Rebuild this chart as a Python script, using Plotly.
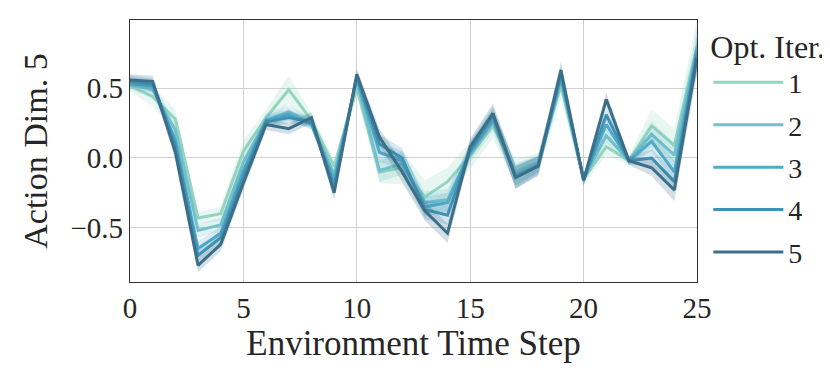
import plotly.graph_objects as go

# environment time steps
steps = list(range(26))

iter_names = ["1", "2", "3", "4", "5"]
iter_colors = ["#95d5c0", "#72c0c9", "#52aac9", "#3f92b5", "#3b6f89"]

# mean action (dim 5) per optimisation iteration
mean_1 = [0.52, 0.44, 0.28, -0.43, -0.40, 0.05, 0.29, 0.49, 0.27, -0.06, 0.50, -0.10, -0.07,
          -0.28, -0.17, 0.02, 0.23, -0.10, -0.03, 0.52, -0.15, 0.08, -0.02, 0.23, 0.09, 0.80]
mean_2 = [0.53, 0.49, 0.20, -0.52, -0.48, -0.03, 0.27, 0.33, 0.25, -0.12, 0.55, -0.09, -0.04,
          -0.32, -0.30, 0.04, 0.26, -0.12, -0.04, 0.55, -0.15, 0.16, -0.02, 0.17, 0.02, 0.78]
mean_3 = [0.54, 0.51, 0.13, -0.65, -0.54, -0.09, 0.27, 0.31, 0.24, -0.16, 0.57, 0.04, -0.02,
          -0.35, -0.32, 0.05, 0.29, -0.13, -0.05, 0.58, -0.15, 0.24, -0.02, 0.12, -0.10, 0.76]
mean_4 = [0.55, 0.53, 0.09, -0.70, -0.57, -0.13, 0.26, 0.29, 0.26, -0.20, 0.58, 0.10, 0.00,
          -0.37, -0.41, 0.06, 0.31, -0.14, -0.05, 0.60, -0.16, 0.31, -0.02, 0.00, -0.17, 0.74]
mean_5 = [0.56, 0.55, 0.04, -0.77, -0.62, -0.18, 0.24, 0.21, 0.29, -0.25, 0.60, 0.15, -0.10,
          -0.38, -0.54, 0.08, 0.32, -0.14, -0.06, 0.63, -0.16, 0.42, -0.02, -0.07, -0.23, 0.72]

# half width of the confidence band
band_1 = [0.04, 0.07, 0.07, 0.04, 0.05, 0.08, 0.06, 0.10, 0.05, 0.05, 0.05, 0.08, 0.12,
          0.12, 0.10, 0.10, 0.09, 0.09, 0.07, 0.10, 0.04, 0.06, 0.03, 0.12, 0.12, 0.20]
band_2 = [0.04, 0.05, 0.05, 0.05, 0.05, 0.06, 0.05, 0.05, 0.04, 0.05, 0.04, 0.08, 0.08,
          0.08, 0.08, 0.07, 0.07, 0.08, 0.06, 0.07, 0.04, 0.05, 0.03, 0.09, 0.09, 0.15]
band_3 = [0.04, 0.04, 0.05, 0.05, 0.05, 0.05, 0.04, 0.04, 0.04, 0.05, 0.04, 0.07, 0.07,
          0.07, 0.07, 0.06, 0.06, 0.08, 0.06, 0.06, 0.04, 0.05, 0.03, 0.07, 0.08, 0.12]
band_4 = [0.04, 0.04, 0.05, 0.05, 0.05, 0.05, 0.04, 0.04, 0.04, 0.05, 0.04, 0.07, 0.07,
          0.07, 0.07, 0.06, 0.06, 0.08, 0.07, 0.06, 0.04, 0.05, 0.03, 0.06, 0.08, 0.12]
band_5 = [0.04, 0.04, 0.05, 0.05, 0.05, 0.05, 0.04, 0.04, 0.04, 0.05, 0.04, 0.06, 0.07,
          0.07, 0.07, 0.06, 0.07, 0.08, 0.07, 0.06, 0.04, 0.05, 0.03, 0.06, 0.08, 0.12]

means = [mean_1, mean_2, mean_3, mean_4, mean_5]
bands = [band_1, band_2, band_3, band_4, band_5]

x_ticks = [0, 5, 10, 15, 20, 25]
y_ticks = [-0.5, 0.0, 0.5]

FONT = "Liberation Serif"


def rgba(hex_col, a):
    h = hex_col.lstrip("#")
    return "rgba(%d,%d,%d,%.2f)" % (int(h[0:2], 16), int(h[2:4], 16), int(h[4:6], 16), a)


fig = go.Figure()
for name, col, m, b in zip(iter_names, iter_colors, means, bands):
    upper = [v + w for v, w in zip(m, b)]
    lower = [v - w for v, w in zip(m, b)]
    fig.add_trace(go.Scatter(x=steps + steps[::-1], y=upper + lower[::-1],
                             fill="toself", fillcolor=rgba(col, 0.22),
                             line=dict(width=0), mode="lines", hoverinfo="skip",
                             showlegend=False, legendgroup=name))
    fig.add_trace(go.Scatter(x=steps, y=m, mode="lines", name=name, legendgroup=name,
                             line=dict(color=col, width=3)))

# the page body has an 8px margin, so the figure is a bit smaller than the window
fig.update_layout(
    width=822, height=370,
    margin=dict(l=122, r=133, t=12, b=96, autoexpand=False),
    paper_bgcolor="white", plot_bgcolor="white",
    font=dict(family=FONT, size=29, color="#262626"),
    legend=dict(title=dict(text="Opt. Iter.", font=dict(size=32)),
                x=1.02, xanchor="left", y=1.015, yanchor="top",
                font=dict(size=28), tracegroupgap=3, itemwidth=70, maxheight=1.0,
                traceorder="grouped", bgcolor="rgba(0,0,0,0)"),
)
fig.update_xaxes(range=[0, 25], tickvals=x_ticks, showgrid=True, gridcolor="#d0d0d0",
                 gridwidth=1.2, zeroline=False, showline=True, linecolor="#333",
                 linewidth=1.2, mirror=True, ticks="",
                 title=dict(text="Environment Time Step", standoff=6, font=dict(size=35)))
fig.update_yaxes(range=[-0.89, 0.99], tickvals=y_ticks, tickformat=".1f",
                 showgrid=True, gridcolor="#d0d0d0", gridwidth=1.2, zeroline=False,
                 showline=True, linecolor="#333", linewidth=1.2, mirror=True, ticks="",
                 title=dict(text="Action Dim. 5", standoff=12, font=dict(size=34)))

fig.write_html("out.html")
